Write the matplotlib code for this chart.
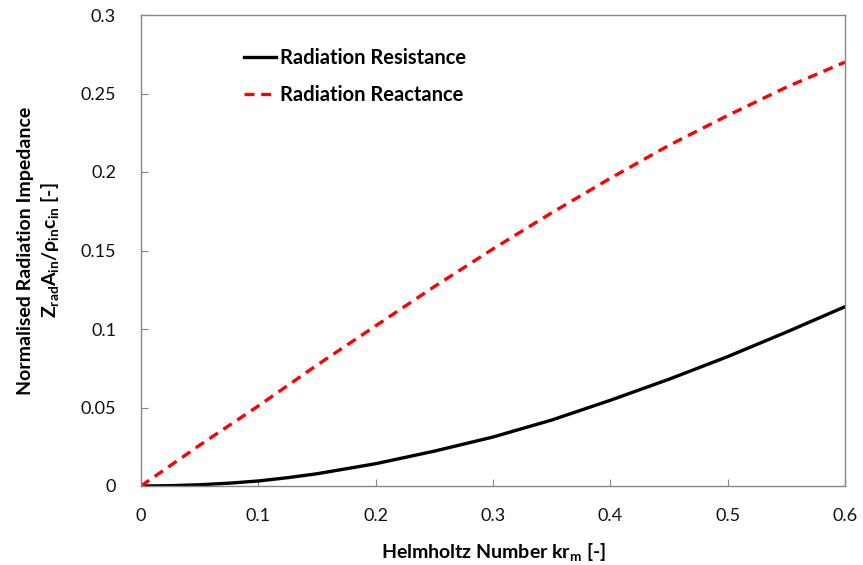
import numpy as np
import matplotlib
matplotlib.use('Agg')
import matplotlib.pyplot as plt

plt.rcParams['font.family'] = ['Lato', 'DejaVu Sans']
plt.rcParams['mathtext.default'] = 'regular'

# values
kr = [0, 0.025, 0.05, 0.075, 0.1, 0.125, 0.15, 0.2, 0.25, 0.3, 0.35, 0.4,
      0.45, 0.5, 0.55, 0.6]
resistance = [0, 0.0002, 0.0008, 0.0018, 0.0032, 0.0053, 0.0078, 0.0142,
              0.0222, 0.0312, 0.0420, 0.0546, 0.0680, 0.0824, 0.0980, 0.1142]
reactance = [0, 0.013, 0.026, 0.0385, 0.051, 0.064, 0.077, 0.102, 0.127,
             0.151, 0.174, 0.196, 0.217, 0.236, 0.254, 0.270]

xticks = [0, 0.1, 0.2, 0.3, 0.4, 0.5, 0.6]
yticks = [0, 0.05, 0.1, 0.15, 0.2, 0.25, 0.3]

fig = plt.figure(figsize=(8.63, 5.65), dpi=100)
ax = fig.add_axes([141 / 863, 1 - 486 / 565, 704 / 863, 471 / 565])

ax.plot(kr, resistance, color='black', lw=2.4, label='Radiation Resistance')
ax.plot(kr, reactance, color='#ff0000', lw=2.4, ls=(0, (3, 2)),
        label='Radiation Reactance')

ax.set_xlim(0, 0.6)
ax.set_ylim(0, 0.3)
ax.set_xticks(xticks)
ax.set_yticks(yticks)
ax.set_xticklabels(['0', '0.1', '0.2', '0.3', '0.4', '0.5', '0.6'])
ax.set_yticklabels(['0', '0.05', '0.1', '0.15', '0.2', '0.25', '0.3'])

for sp in ax.spines.values():
    sp.set_color('#868686')
    sp.set_linewidth(1.0)
ax.tick_params(direction='in', length=5, color='#868686', labelsize=13,
               labelcolor='#111111')
ax.tick_params(axis='x', pad=16)
ax.tick_params(axis='y', pad=18)

ax.set_xlabel('Helmholtz Number kr$_m$ [-]', fontsize=14, fontweight='bold',
              labelpad=12)
ax.set_ylabel('Normalised Radiation Impedance\n'
              'Z$_{rad}$A$_{in}$/ρ$_{in}$c$_{in}$ [-]',
              fontsize=14, fontweight='bold', labelpad=14, linespacing=1.3)

leg = ax.legend(loc='upper left', bbox_to_anchor=(0.12, 0.968), frameon=False,
                prop={'weight': 'bold', 'size': 14.5}, handlelength=1.6,
                handletextpad=0.2, labelspacing=0.85)

fig.savefig('out.png', dpi=100)
